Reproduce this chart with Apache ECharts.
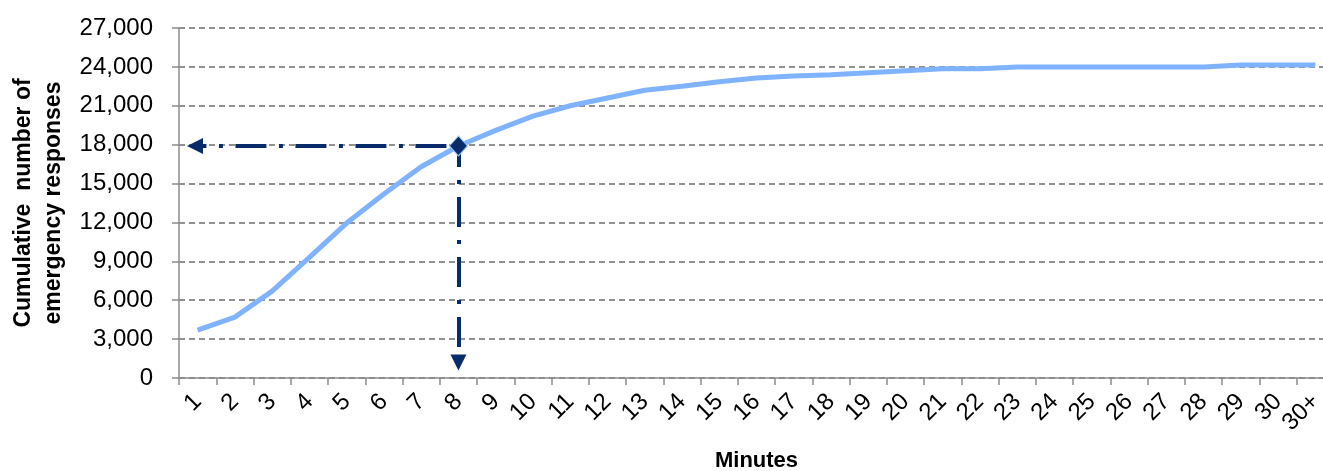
<!DOCTYPE html>
<html>
<head>
<meta charset="utf-8">
<style>
  html, body { margin: 0; padding: 0; background: #ffffff; overflow: hidden; }
  #chart { width: 1323px; height: 471px; }
</style>
<script src="https://cdn.jsdelivr.net/npm/echarts@6/dist/echarts.min.js"></script>
</head>
<body>
<div id="chart"></div>
<script>
// Minutes after the call, last bucket is everything over 30 minutes
const minutes = ['1','2','3','4','5','6','7','8','9','10','11','12','13','14','15','16',
                 '17','18','19','20','21','22','23','24','25','26','27','28','29','30','30+'];

// Cumulative number of emergency responses reached by each minute
const responses = [3700, 4700, 6700, 9300, 11950, 14200, 16300, 17900, 19100, 20200,
                   21000, 21600, 22200, 22500, 22850, 23150, 23300, 23400, 23550, 23700,
                   23850, 23850, 24000, 24000, 24000, 24000, 24000, 24000, 24150, 24150, 24150];

// Y axis scale
const yMin = 0;
const yMax = 27000;
const yStep = 3000;

// Highlighted minute and where its guide arrows end (value units)
const markedMinute = 8;
const guideArrowX = 0.93;     // minute-scale position of the left arrow head
const guideArrowY = 1200;     // response-scale position of the lower arrow head

const markedValue = responses[markedMinute - 1];

const FONT = 'Liberation Sans, Arial, Helvetica, sans-serif';
const NAVY = '#072c69';

const chart = echarts.init(document.getElementById('chart'), null, { renderer: 'canvas' });

chart.setOption({
  animation: false,
  backgroundColor: '#ffffff',
  // the plot runs a little past the right edge of the page, cutting the last column
  grid: { left: 179, right: -11, top: 28, bottom: 93, containLabel: false, outerBoundsMode: 'none' },
  xAxis: [
    {
      type: 'category',
      data: minutes,
      boundaryGap: true,
      name: 'Minutes',
      nameLocation: 'middle',
      nameGap: 72,
      nameTextStyle: { fontFamily: FONT, fontSize: 22, fontWeight: 'bold', color: '#000' },
      axisLine: { lineStyle: { color: '#8c8c8c', width: 1.5 } },
      axisTick: { show: true, length: 7, alignWithLabel: false, lineStyle: { color: '#8c8c8c', width: 1.5 } },
      axisLabel: {
        rotate: 45, margin: 20, interval: 0,
        fontFamily: FONT, fontSize: 24, color: '#000'
      },
      splitLine: { show: false }
    },
    {
      // helper scale on the same grid, one unit per minute
      type: 'value',
      min: 0.5,
      max: minutes.length + 0.5,
      show: false,
      splitLine: { show: false }
    }
  ],
  yAxis: {
    type: 'value',
    min: yMin, max: yMax, interval: yStep,
    name: 'Cumulative  number of\nemergency responses',
    nameLocation: 'middle',
    nameGap: 109,
    nameTextStyle: { fontFamily: FONT, fontSize: 23, fontWeight: 'bold', color: '#000', lineHeight: 30 },
    axisLine: { show: true, lineStyle: { color: '#8c8c8c', width: 1.5 } },
    axisTick: { show: true, length: 7, lineStyle: { color: '#8c8c8c', width: 1.5 } },
    axisLabel: {
      margin: 26,
      fontFamily: FONT, fontSize: 24, color: '#000',
      formatter: v => v.toLocaleString('en-US')
    },
    splitLine: { show: true, lineStyle: { color: '#6e6e6e', width: 1.5, type: [6, 4] } }
  },
  series: [
    {
      name: 'Cumulative responses',
      type: 'line',
      data: responses,
      xAxisIndex: 0,
      symbol: 'none',
      smooth: false,
      lineStyle: { color: '#7fb3ff', width: 5 },
      z: 2
    },
    {
      name: 'Guide',
      type: 'line',
      xAxisIndex: 1,
      data: [[markedMinute, markedValue]],
      symbol: 'diamond',
      symbolSize: [18, 20],
      itemStyle: { color: NAVY, borderColor: '#9cc4ff', borderWidth: 1 },
      lineStyle: { width: 0 },
      z: 4,
      markLine: {
        silent: true,
        symbol: ['none', 'triangle'],
        symbolSize: [16, 16],
        label: { show: false },
        z: 3,
        data: [
          [
            { coord: [markedMinute, markedValue] },
            { coord: [guideArrowX, markedValue],
              lineStyle: { color: NAVY, width: 4, type: [31, 12.5, 4, 12.5], dashOffset: 48 } }
          ],
          [
            { coord: [markedMinute, markedValue] },
            { coord: [markedMinute, guideArrowY],
              lineStyle: { color: NAVY, width: 4, type: [30, 13, 4, 13], dashOffset: 9 } }
          ]
        ],
        itemStyle: { color: NAVY },
        lineStyle: { color: NAVY, width: 4 }
      }
    }
  ]
});
</script>
</body>
</html>
